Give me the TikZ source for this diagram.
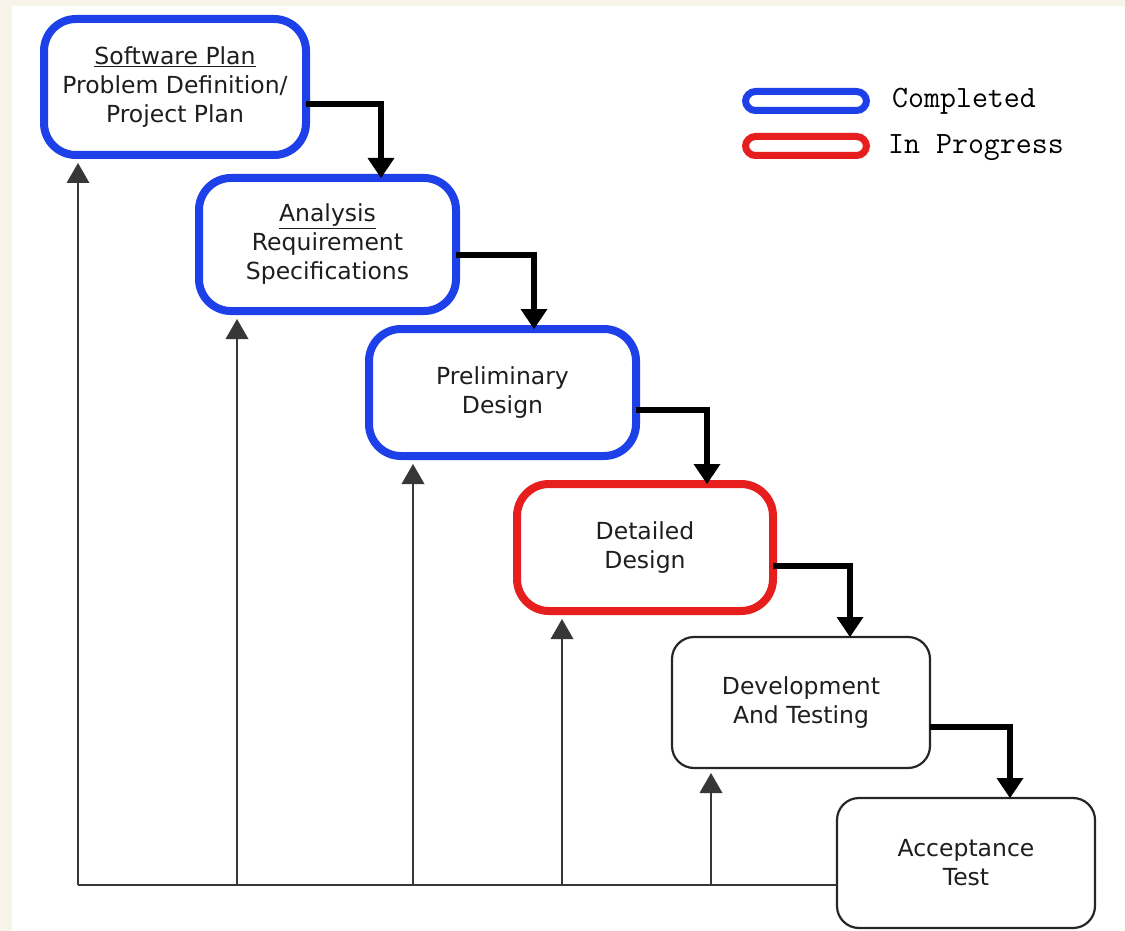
\documentclass[tikz,border=0pt]{standalone}
\usepackage{fontspec}
\setmainfont{DejaVu Sans}
\usetikzlibrary{arrows.meta,calc}
\definecolor{cblue}{RGB}{30,64,232}
\definecolor{cred}{RGB}{230,30,30}
\definecolor{cream}{RGB}{247,243,232}
\definecolor{txt}{RGB}{30,30,30}
\definecolor{fbgray}{RGB}{55,55,55}
\tikzset{
 phase/.style={rounded corners=32pt, fill=white, outer sep=0pt, align=center,
   font=\fontsize{23.5}{29}\selectfont, text=txt, inner sep=0pt},
 done/.style={phase, draw=cblue, line width=8pt},
 wip/.style={phase, draw=cred, line width=8pt},
 todo/.style={phase, draw=black!85, line width=2.2pt, rounded corners=22pt},
 flow/.style={line width=6.5pt, -{Triangle[length=20pt,width=27pt,line width=0pt]}},
 back/.style={fbgray, line width=2.8pt},
 backarr/.style={back, -{Triangle[length=20pt,width=23pt,line width=0pt]}},
 legbar/.style={rounded corners=10pt, line width=7pt, fill=white,
   minimum width=121pt, minimum height=19pt, outer sep=0pt},
 legtext/.style={font=\ttfamily\fontsize{31}{31}\selectfont, anchor=base west,
   inner sep=0pt, text=black}
}
\begin{document}
\begin{tikzpicture}[x=1pt,y=-1pt]
\useasboundingbox (0,0) rectangle (1125,931);
\fill[cream] (0,0) rectangle (1125,931);
\fill[white] (12,6) rectangle (1125,931);

% phase boxes
\node[done, minimum width=262pt, minimum height=136pt] (b1) at (175,87)
  {\underline{Software Plan}\\Problem Definition/\\Project Plan};
\node[done, minimum width=257pt, minimum height=133pt] (b2) at (327.5,244.5)
  {\underline{Analysis}\\Requirement\\Specifications};
\node[done, minimum width=267pt, minimum height=127pt] (b3) at (502.5,392.5)
  {Preliminary\\Design};
\node[wip, minimum width=256pt, minimum height=127pt] (b4) at (645,547.5)
  {Detailed\\Design};
\node[todo, minimum width=258pt, minimum height=131pt] (b5) at (801,702.5)
  {Development\\And Testing};
\node[todo, minimum width=258pt, minimum height=130pt] (b6) at (966,863)
  {Acceptance\\Test};

% forward flow
\draw[flow] ([yshift=-17pt]b1.east) -| ([xshift=53.5pt]b2.north);
\draw[flow] ([yshift=-10.5pt]b2.east) -| ([xshift=31.5pt]b3.north);
\draw[flow] ([yshift=-17.5pt]b3.east) -| ([xshift=62pt]b4.north);
\draw[flow] ([yshift=-18.5pt]b4.east) -| ([xshift=49pt]b5.north);
\draw[flow] ([yshift=-24.5pt]b5.east) -| ([xshift=44pt]b6.north);

% feedback
\coordinate (f1) at (78,885);
\coordinate (f2) at (237,885);
\coordinate (f3) at (413,885);
\coordinate (f4) at (562,885);
\coordinate (f5) at (711,885);
\draw[back] (f1) -- (b6.west |- f1);
\draw[backarr] (f1) -- ($(f1 |- b1.south)+(0,8)$);
\draw[backarr] (f2) -- ($(f2 |- b2.south)+(0,8)$);
\draw[backarr] (f3) -- ($(f3 |- b3.south)+(0,8)$);
\draw[backarr] (f4) -- ($(f4 |- b4.south)+(0,8)$);
\draw[backarr] (f5) -- ($(f5 |- b5.south)+(0,5)$);

% legend
\node[legbar, draw=cblue] (lb) at (806,101) {};
\node[legbar, draw=cred] (lr) at (806,146) {};
\node[legtext] (lbt) at (892,108) {Completed};
\node[legtext] (lrt) at (888,154) {In Progress};
\end{tikzpicture}
\end{document}
